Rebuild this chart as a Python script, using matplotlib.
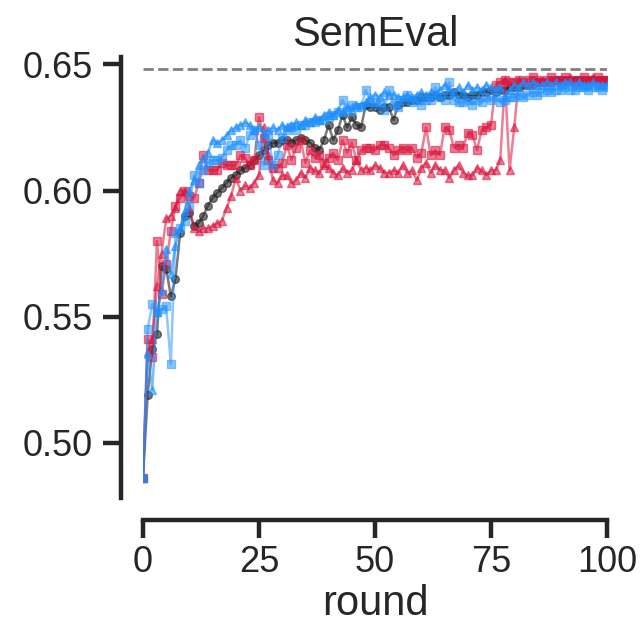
import numpy as np
import matplotlib
matplotlib.use("Agg")
import matplotlib.pyplot as plt

plt.rcParams["font.family"] = ["Liberation Sans", "DejaVu Sans"]

rounds = list(range(101))
upper_bound = 0.648

black_circle = [
    .486, .519, .537, .543, .570, .569, .558, .565, .583, .590,
    .591, .586, .587, .590, .594, .597, .599, .601, .603, .605,
    .606, .608, .609, .610, .612, .614, .616, .618, .619, .619,
    .620, .620, .619, .620, .621, .620, .619, .617, .616, .620,
    .626, .620, .624, .630, .625, .629, .626, .625, .634, .633,
    .633, .632, .633, .633, .628, .634, .635, .635, .636, .636,
    .637, .637, .637, .638, .637, .638, .638, .639, .638, .638,
    .637, .638, .638, .639, .639, .640, .639, .640, .640, .641,
    .641, .641, .642, .642, .642, .643, .643, .643, .643, .644,
    .644, .644, .644, .644, .644, .644, .644, .644, .644, .644,
    .644,
]

red_square = [
    .486, .541, .534, .580, .559, .571, .584, .594, .597, .600,
    .598, .597, .603, .614, .608, .608, .608, .611, .610, .610,
    .610, .614, .613, .610, .612, .629, .621, .612, .609, .609,
    .611, .618, .612, .617, .620, .611, .616, .613, .614, .611,
    .613, .615, .612, .620, .615, .619, .612, .616, .617, .617,
    .616, .618, .618, .617, .614, .616, .617, .616, .617, .613,
    .615, .625, .614, .616, .614, .625, .624, .617, .618, .617,
    .623, .622, .616, .624, .625, .626, .642, .643, .644, .643,
    .643, .644, .643, .644, .645, .644, .643, .644, .645, .644,
    .644, .645, .644, .643, .644, .645, .644, .644, .645, .644,
    .644,
]

red_triangle = [
    .486, .536, .541, .562, .575, .589, .590, .593, .600, .600,
    .593, .585, .584, .585, .585, .586, .587, .588, .593, .598,
    .605, .600, .602, .601, .603, .606, .625, .614, .604, .603,
    .606, .606, .603, .604, .607, .605, .609, .608, .607, .610,
    .609, .607, .606, .609, .607, .608, .612, .608, .609, .608,
    .610, .609, .607, .607, .608, .607, .610, .607, .608, .604,
    .609, .611, .607, .610, .608, .608, .605, .608, .610, .607,
    .606, .606, .609, .608, .606, .608, .608, .612, .644, .608,
    .625, .644, .643, .642, .644, .643, .644, .643, .644, .644,
    .643, .644, .645, .644, .643, .644, .644, .645, .644, .643,
    .644,
]

blue_square = [
    .486, .545, .555, .552, .553, .554, .531, .583, .585, .588,
    .594, .606, .603, .608, .611, .612, .612, .613, .616, .618,
    .618, .620, .617, .622, .624, .618, .610, .622, .610, .614,
    .621, .624, .625, .624, .626, .626, .627, .627, .628, .628,
    .629, .630, .631, .636, .632, .634, .633, .633, .640, .635,
    .634, .635, .632, .640, .634, .633, .636, .638, .635, .636,
    .634, .636, .636, .641, .637, .636, .643, .636, .635, .635,
    .636, .634, .636, .635, .637, .636, .637, .635, .636, .637,
    .637, .638, .637, .638, .639, .638, .639, .640, .639, .640,
    .640, .641, .640, .640, .641, .641, .640, .641, .641, .640,
    .641,
]

blue_triangle = [
    .486, .535, .521, .552, .560, .577, .567, .578, .585, .592,
    .600, .604, .610, .613, .615, .620, .619, .620, .622, .624,
    .625, .626, .627, .626, .624, .625, .623, .624, .625, .624,
    .626, .625, .626, .627, .626, .628, .627, .629, .628, .630,
    .631, .630, .632, .631, .633, .632, .634, .634, .635, .637,
    .638, .637, .639, .638, .638, .637, .637, .638, .637, .638,
    .639, .638, .639, .638, .640, .642, .640, .639, .641, .639,
    .642, .640, .641, .640, .642, .641, .640, .641, .637, .640,
    .642, .641, .643, .642, .643, .642, .642, .643, .642, .643,
    .642, .643, .643, .642, .643, .642, .642, .643, .642, .642,
    .642,
]

RED = "#DC143C"
BLUE = "#1E90FF"
DARK = "#222222"
TEXT = "#262626"

fig = plt.figure(figsize=(6.44, 6.27), dpi=100)
ax = fig.add_axes([143 / 644, 129 / 627, 464 / 644, 441 / 627])

series = [
    (black_circle, DARK, "o", 0.6),
    (red_square, RED, "s", 0.55),
    (red_triangle, RED, "^", 0.55),
    (blue_square, BLUE, "s", 0.5),
    (blue_triangle, BLUE, "^", 0.6),
]
for vals, color, marker, alpha in series:
    ax.plot(rounds, vals, color=color, marker=marker, markersize=5.5,
            linewidth=1.8, alpha=alpha)

ax.axhline(upper_bound, color="gray", linestyle="--", linewidth=2)

ax.set_xlim(0, 100)
ax.set_xticks([0, 25, 50, 75, 100])
ax.set_yticks([0.50, 0.55, 0.60, 0.65])
ax.set_title("SemEval", fontsize=30, pad=8, color=TEXT)
ax.set_xlabel("round", fontsize=30, color=TEXT, labelpad=3)

for side in ("top", "right"):
    ax.spines[side].set_visible(False)
for side in ("left", "bottom"):
    ax.spines[side].set_position(("outward", 16))
    ax.spines[side].set_linewidth(3.2)
    ax.spines[side].set_color(TEXT)
ax.tick_params(axis="both", labelsize=26, width=3.2, length=13,
               color=TEXT, labelcolor=TEXT)
ax.tick_params(axis="y", pad=7)
ax.tick_params(axis="x", pad=5)

plt.savefig("out.png", dpi=100, facecolor="white")
